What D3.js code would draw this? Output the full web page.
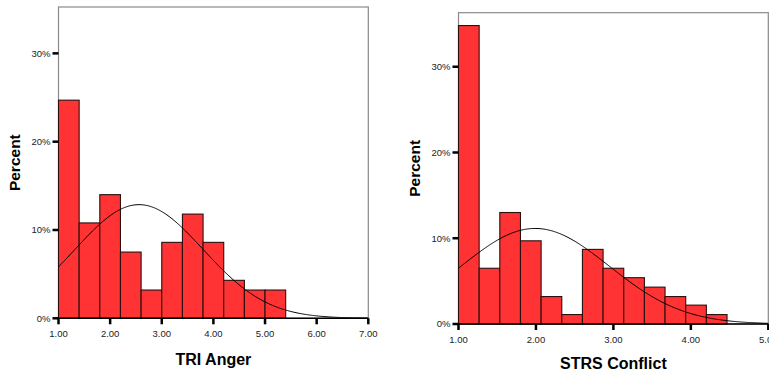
<!DOCTYPE html>
<html>
<head>
<meta charset="utf-8">
<script src="https://cdn.jsdelivr.net/npm/d3@7"></script>
<style>
  body { margin: 0; background: #fff; }
  svg { display: block; }
  text { font-family: "Liberation Sans", Arial, sans-serif; }
</style>
</head>
<body>
<div id="chart"></div>
<script>
// TRI Anger histogram (percent per bin, bins of 0.4 starting at 1.00)
var angerBinStart = 1.0, angerBinWidth = 0.4;
var angerPct = [24.7, 10.8, 14.0, 7.5, 3.2, 8.6, 11.8, 8.6, 4.3, 3.2, 3.2];
var angerTicks = ["1.00", "2.00", "3.00", "4.00", "5.00", "6.00", "7.00"];
var angerMean = 2.56, angerSd = 1.24;

// STRS Conflict histogram (bins of ~0.267 starting at 1.00)
var conflictBinStart = 1.0, conflictBinWidth = 0.2667;
var conflictPct = [34.8, 6.5, 13.0, 9.7, 3.2, 1.1, 8.7, 6.5, 5.4, 4.3, 3.2, 2.2, 1.1];
var conflictTicks = ["1.00", "2.00", "3.00", "4.00", "5.00"];
var conflictMean = 1.99, conflictSd = 0.955;

var yTickVals = [0, 10, 20, 30];

var svg = d3.select("#chart").append("svg")
    .attr("width", 769)
    .attr("height", 376);

function drawHist(opt) {
  var g = svg.append("g");
  var x = d3.scaleLinear().domain(opt.xDomain).range([opt.left, opt.right]);
  var y = d3.scaleLinear().domain([0, opt.yMax]).range([opt.bottom, opt.top]);

  // gray frame
  g.append("rect")
      .attr("x", opt.left)
      .attr("y", opt.top)
      .attr("width", opt.right - opt.left)
      .attr("height", opt.bottom - opt.top)
      .attr("fill", "none")
      .attr("stroke", "#8a8a8a")
      .attr("stroke-width", 1.2);

  // bars
  g.selectAll(".bar")
      .data(opt.pct)
      .enter().append("rect")
      .attr("class", "bar")
      .attr("x", function(d, i) { return x(opt.binStart + i * opt.binWidth); })
      .attr("y", function(d) { return y(d); })
      .attr("width", function(d, i) {
        return x(opt.binStart + (i + 1) * opt.binWidth) - x(opt.binStart + i * opt.binWidth);
      })
      .attr("height", function(d) { return opt.bottom - y(d); })
      .attr("fill", "#ff3333")
      .attr("stroke", "#2a1010")
      .attr("stroke-width", 1.1);

  // normal curve scaled to percent per bin
  var pts = d3.range(0, 301).map(function(i) {
    var v = opt.xDomain[0] + (opt.xDomain[1] - opt.xDomain[0]) * i / 300;
    var z = (v - opt.mean) / opt.sd;
    var p = 100 * opt.binWidth / (opt.sd * Math.sqrt(2 * Math.PI)) * Math.exp(-0.5 * z * z);
    return [v, p];
  });
  g.append("path")
      .datum(pts)
      .attr("fill", "none")
      .attr("stroke", "#000")
      .attr("stroke-width", 1)
      .attr("d", d3.line()
        .x(function(d) { return x(d[0]); })
        .y(function(d) { return y(d[1]); }));

  // bottom axis
  g.append("line")
      .attr("x1", opt.left).attr("x2", opt.right)
      .attr("y1", opt.bottom).attr("y2", opt.bottom)
      .attr("stroke", "#000").attr("stroke-width", 1.5);

  var xt = g.selectAll(".xt")
      .data(opt.ticks)
      .enter().append("g")
      .attr("transform", function(d) { return "translate(" + x(+d) + "," + opt.bottom + ")"; });
  xt.append("line")
      .attr("y1", 0).attr("y2", 6)
      .attr("stroke", "#000").attr("stroke-width", 2.5);
  xt.append("text")
      .attr("y", 19)
      .attr("text-anchor", "middle")
      .style("font-size", "9.5px")
      .attr("fill", "#222")
      .text(function(d) { return d; });

  // left axis ticks
  var yt = g.selectAll(".yt")
      .data(yTickVals)
      .enter().append("g")
      .attr("transform", function(d) { return "translate(" + opt.left + "," + y(d) + ")"; });
  yt.append("line")
      .attr("x1", -6).attr("x2", 0)
      .attr("stroke", "#000").attr("stroke-width", 2.5);
  yt.append("text")
      .attr("x", -8)
      .attr("dy", "0.35em")
      .attr("text-anchor", "end")
      .style("font-size", "9.5px")
      .attr("fill", "#222")
      .text(function(d) { return d + "%"; });

  // titles
  g.append("text")
      .attr("transform", "translate(" + opt.yLabelX + "," + ((opt.top + opt.bottom) / 2) + ") rotate(-90)")
      .attr("text-anchor", "middle")
      .style("font-size", "15.5px")
      .style("font-weight", "bold")
      .text("Percent");
  g.append("text")
      .attr("x", (opt.left + opt.right) / 2)
      .attr("y", opt.xLabelY)
      .attr("text-anchor", "middle")
      .style("font-size", "16px")
      .style("font-weight", "bold")
      .text(opt.title);
}

drawHist({
  left: 58.5, right: 368.3, top: 7, bottom: 318.3,
  xDomain: [1, 7], yMax: 35.25,
  binStart: angerBinStart, binWidth: angerBinWidth, pct: angerPct,
  ticks: angerTicks, mean: angerMean, sd: angerSd,
  title: "TRI Anger", yLabelX: 20, xLabelY: 365
});

drawHist({
  left: 458.5, right: 768.3, top: 12.7, bottom: 324,
  xDomain: [1, 5], yMax: 36.3,
  binStart: conflictBinStart, binWidth: conflictBinWidth, pct: conflictPct,
  ticks: conflictTicks, mean: conflictMean, sd: conflictSd,
  title: "STRS Conflict", yLabelX: 420, xLabelY: 369
});
</script>
</body>
</html>
